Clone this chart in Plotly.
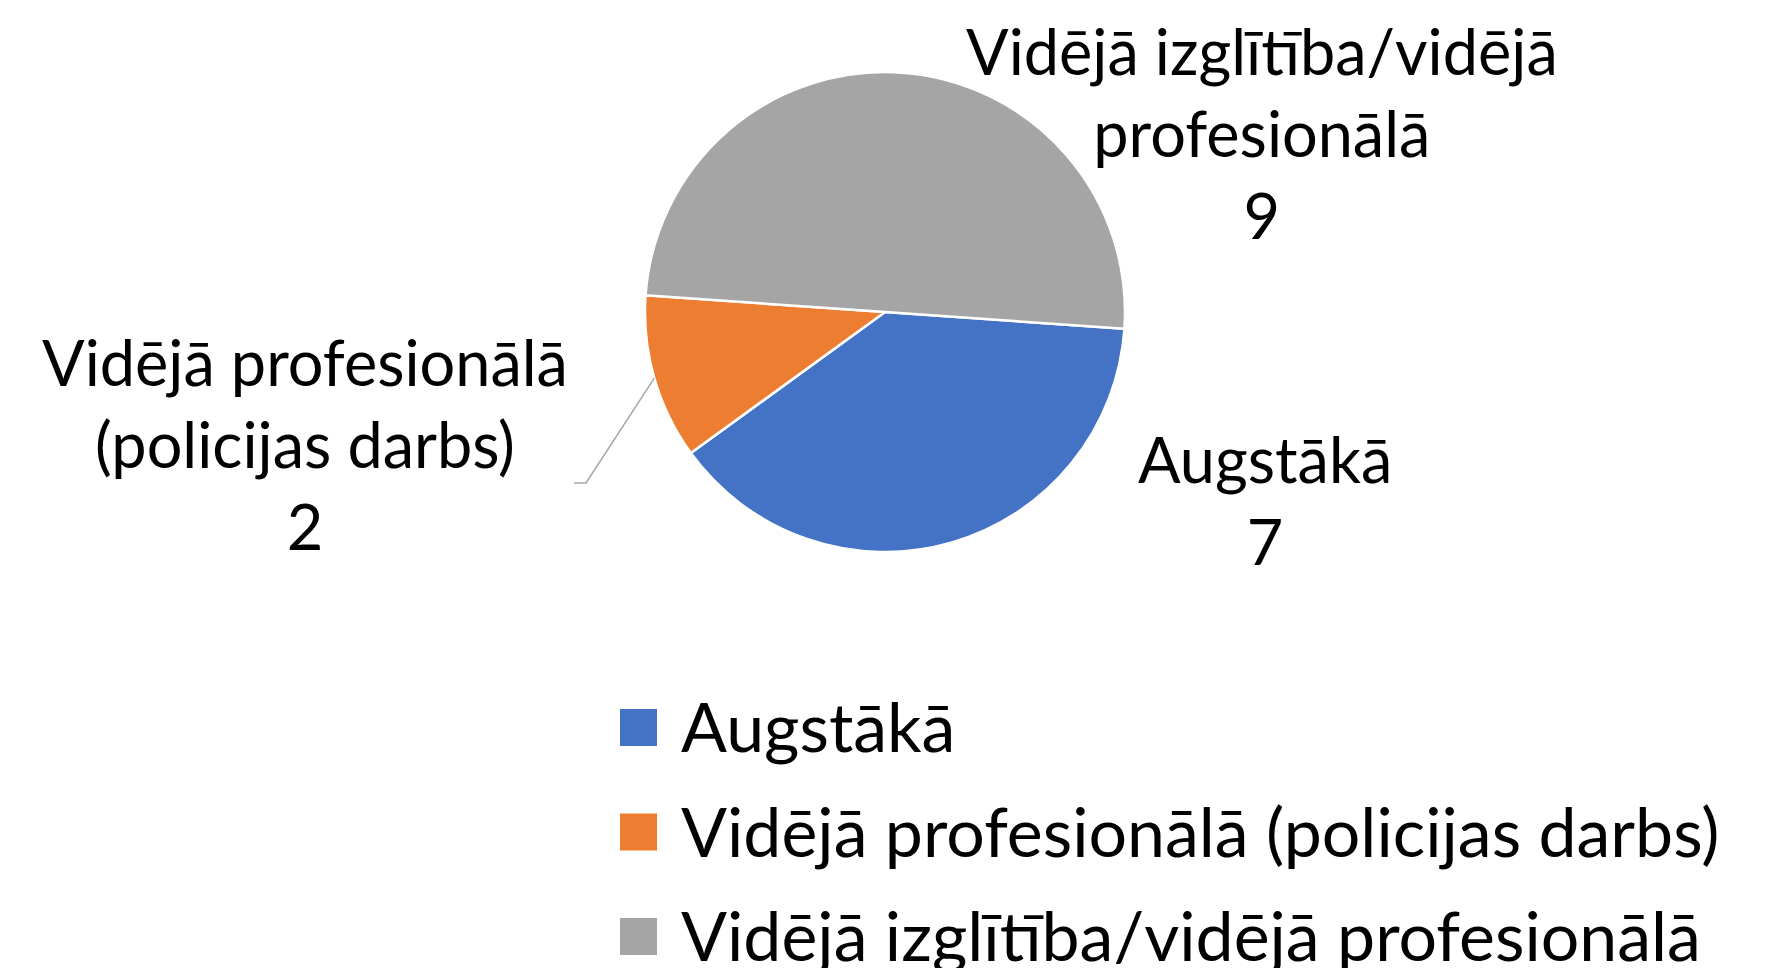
import math
import plotly.graph_objects as go

# ---- data ----
categories = ["Augstākā", "Vidējā profesionālā (policijas darbs)", "Vidējā izglītība/vidējā profesionālā"]
values = [7, 2, 9]
label_lines = [
    ["Augstākā"],
    ["Vidējā profesionālā", "(policijas darbs)"],
    ["Vidējā izglītība/vidējā", "profesionālā"],
]
colors = ["#4472C4", "#ED7D31", "#A5A5A5"]

# ---- layout constants (page pixels) ----
W, H = 1773, 968
OFF = 8  # default page body margin
FONT = "Lato"
FS_LABEL = 63
FS_LEGEND = 68
CX, CY, R = 885, 312, 240
ROTATION = 94


def px(x):
    return (x - OFF) / W


def py(y):
    return 1 - (y - OFF) / H


fig = go.Figure()
fig.add_trace(go.Pie(
    labels=categories,
    values=values,
    sort=False,
    direction="clockwise",
    rotation=ROTATION,
    textinfo="none",
    hoverinfo="label+value",
    marker=dict(colors=colors, line=dict(color="white", width=2.5)),
    domain=dict(x=[px(CX - R), px(CX + R)], y=[py(CY + R), py(CY - R)]),
    showlegend=False,
))

# data labels (label + value)
label_pos = [(1265, 499), (305, 444), (1262, 132)]
annotations = []
for lines, v, (lx, ly) in zip(label_lines, values, label_pos):
    annotations.append(dict(
        x=px(lx), y=py(ly), xref="paper", yref="paper",
        text="<br>".join(lines + [str(v)]),
        showarrow=False, xanchor="center", yanchor="middle", align="center",
        font=dict(family=FONT, size=FS_LABEL, color="black"),
    ))

# leader line for the small slice (starts at mid-angle of slice on the pie edge)
total = sum(values)
start = ROTATION + 360 * values[0] / total
mid = math.radians(start + 180 * values[1] / total)
sx, sy = CX + R * math.sin(mid), CY - R * math.cos(mid)
shapes = [
    dict(type="path", xref="paper", yref="paper",
         path=f"M {px(sx)} {py(sy)} L {px(586)} {py(483)} L {px(574)} {py(483)}",
         line=dict(color="#A6A6A6", width=1.5)),
]

# legend (manual, large square markers)
LEG_X, LEG_Y0, LEG_DY, SQ = 620, 727.5, 104.5, 37
for i, (cat, col) in enumerate(zip(categories, colors)):
    yc = LEG_Y0 + i * LEG_DY
    shapes.append(dict(type="rect", xref="paper", yref="paper",
                       x0=px(LEG_X), x1=px(LEG_X + SQ), y0=py(yc + SQ / 2), y1=py(yc - SQ / 2),
                       fillcolor=col, line=dict(width=0)))
    annotations.append(dict(
        x=px(679), y=py(yc - 2), xref="paper", yref="paper", text=cat,
        showarrow=False, xanchor="left", yanchor="middle",
        font=dict(family=FONT, size=FS_LEGEND, color="black"),
    ))

fig.update_layout(
    width=W, height=H,
    margin=dict(l=0, r=0, t=0, b=0),
    paper_bgcolor="white", plot_bgcolor="white",
    annotations=annotations, shapes=shapes,
)
fig.write_html("out.html")
